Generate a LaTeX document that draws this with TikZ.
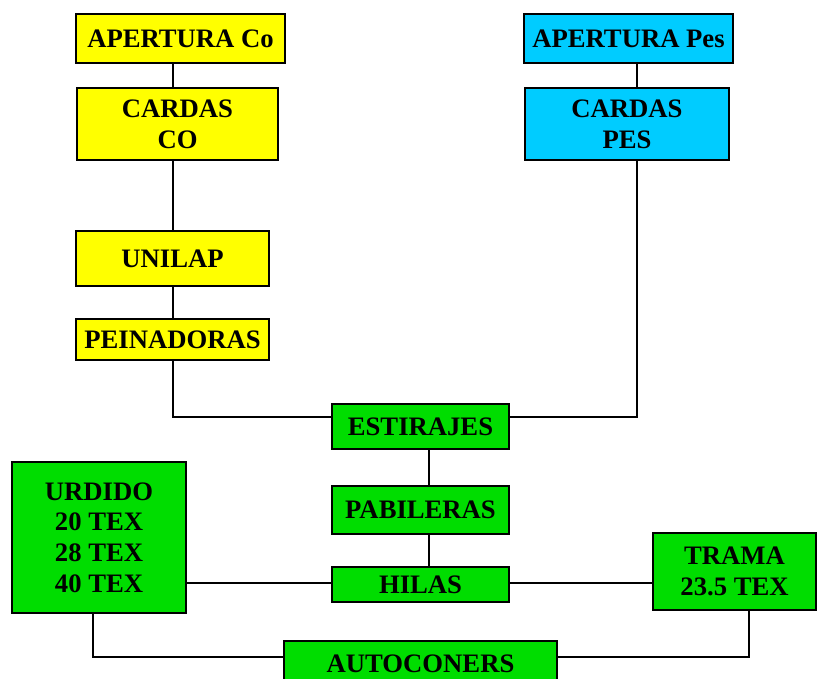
\documentclass[tikz,border=0pt]{standalone}
\usepackage{fontspec}
\setmainfont{Liberation Serif}
\definecolor{amarillo}{RGB}{255,255,0}
\definecolor{celeste}{RGB}{0,204,255}
\definecolor{verde}{RGB}{0,221,0}
\begin{document}
\begin{tikzpicture}[x=0.75pt,y=-0.75pt,
    caja/.style 2 args={draw, line width=1.1pt, inner sep=0pt, align=center,
        minimum width=#1*0.75pt, minimum height=#2*0.75pt,
        font=\fontsize{20pt}{23pt}\selectfont\bfseries},
    linea/.style={draw, line width=1.1pt}]
        \useasboundingbox (0,0) rectangle (817,678);

        \node[caja={209}{49},fill=amarillo] (apco) at (180.5,38.5) {APERTURA Co};
        \node[caja={201}{72},fill=amarillo] (cardco) at (177.5,124) {CARDAS\\CO};
        \node[caja={193}{55},fill=amarillo] (unilap) at (172.5,258.5) {UNILAP};
        \node[caja={193}{41},fill=amarillo] (peina) at (172.5,339.5) {PEINADORAS};
        \node[caja={209}{49},fill=celeste] (appes) at (628.5,38.5) {APERTURA Pes};
        \node[caja={204}{72},fill=celeste] (cardpes) at (627,124) {CARDAS\\PES};
        \node[caja={177}{45},fill=verde] (estir) at (420.5,426.5) {ESTIRAJES};
        \node[caja={177}{48},fill=verde] (pabil) at (420.5,510) {PABILERAS};
        \node[caja={177}{35},fill=verde] (hilas) at (420.5,584.5) {HILAS};
        \node[caja={174}{151},fill=verde] (urdido) at (99,537.5) {URDIDO\\20 TEX\\28 TEX\\40 TEX};
        \node[caja={163}{77},fill=verde] (trama) at (734.5,571.5) {TRAMA\\23.5 TEX};
        \node[caja={273}{45},fill=verde] (autoc) at (420.5,663.5) {AUTOCONERS};

        \coordinate (colI) at (173,0);
        \coordinate (colD) at (637,0);
        \coordinate (colC) at (429,0);
        \coordinate (filaE) at (0,417);
        \coordinate (filaH) at (0,583);
        \coordinate (filaA) at (0,657);
        \coordinate (colU) at (93,0);
        \coordinate (colT) at (749,0);

        \path[linea] (apco.south -| colI) -- (cardco.north -| colI);
        \path[linea] (cardco.south -| colI) -- (unilap.north -| colI);
        \path[linea] (unilap.south -| colI) -- (peina.north -| colI);
        \path[linea] (peina.south -| colI) |- (estir.west |- filaE);
        \path[linea] (appes.south -| colD) -- (cardpes.north -| colD);
        \path[linea] (cardpes.south -| colD) |- (estir.east |- filaE);
        \path[linea] (estir.south -| colC) -- (pabil.north -| colC);
        \path[linea] (pabil.south -| colC) -- (hilas.north -| colC);
        \path[linea] (urdido.east |- filaH) -- (hilas.west |- filaH);
        \path[linea] (hilas.east |- filaH) -- (trama.west |- filaH);
        \path[linea] (urdido.south -| colU) |- (autoc.west |- filaA);
        \path[linea] (trama.south -| colT) |- (autoc.east |- filaA);
\end{tikzpicture}
\end{document}
